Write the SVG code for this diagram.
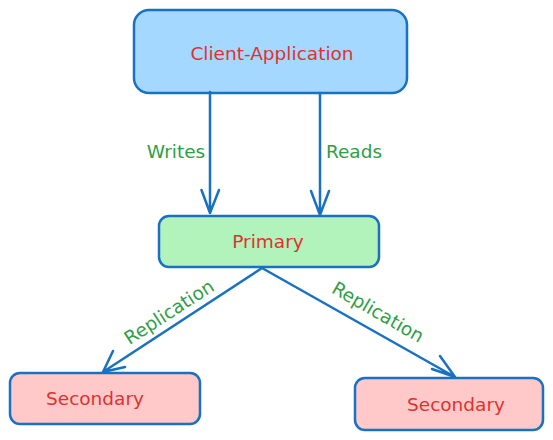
<svg xmlns="http://www.w3.org/2000/svg" width="553" height="440" viewBox="0 0 553 440">
<style>
.box{stroke:#1971c2;stroke-width:2.5;stroke-linejoin:round}
.lbl{font-family:"DejaVu Sans",Verdana,sans-serif;font-size:18.5px;fill:#e03131;text-anchor:middle;dominant-baseline:central}
.edge{font-family:"DejaVu Sans",Verdana,sans-serif;font-size:18.5px;fill:#2f9e44;text-anchor:middle;dominant-baseline:central}
.ln{stroke:#1971c2;stroke-width:2.5;fill:none;stroke-linecap:round;stroke-linejoin:round}
</style>
<rect width="553" height="440" fill="#ffffff"/>
<g id="client">
<rect class="box" x="134" y="10" width="273" height="83" rx="15" fill="#a5d8ff"/>
<text class="lbl" x="272" y="53">Client-Application</text>
</g>
<g id="primary">
<rect class="box" x="159" y="216" width="220" height="51" rx="10" fill="#b2f2bb"/>
<text class="lbl" x="268" y="241">Primary</text>
</g>
<g id="secondary1">
<rect class="box" x="10" y="373" width="190" height="51" rx="10" fill="#ffc9c9"/>
<text class="lbl" x="95" y="398">Secondary</text>
</g>
<g id="secondary2">
<rect class="box" x="355" y="378" width="188" height="52" rx="10" fill="#ffc9c9"/>
<text class="lbl" x="456" y="404">Secondary</text>
</g>
<g id="connectors">
<path class="ln" d="M210 92 L210 213 M201.5 190 L210 213 L219 190"/>
<path class="ln" d="M320 93 L320 215 M311 191 L320 215 L329 191"/>
<path class="ln" d="M262 268 L103 372 M113 351 L103 372 L125 367"/>
<path class="ln" d="M262 268 L455 377 M432 369 L455 377 L440 356"/>
<text class="edge" x="176" y="151">Writes</text>
<text class="edge" x="354" y="151">Reads</text>
<text class="edge" x="169" y="312" transform="rotate(-33 169 312)">Replication</text>
<text class="edge" x="378" y="312" transform="rotate(30 378 312)">Replication</text>
</g>
</svg>
